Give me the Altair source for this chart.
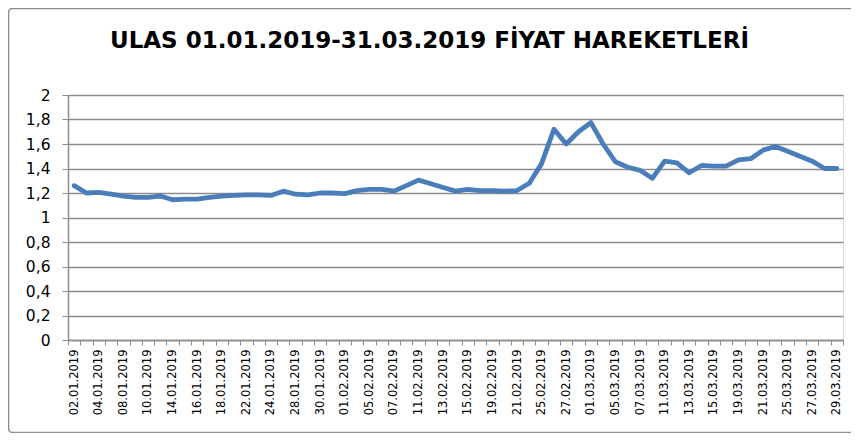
import altair as alt
import pandas as pd

dates = [
    "02.01.2019", "03.01.2019", "04.01.2019", "07.01.2019", "08.01.2019", "09.01.2019",
    "10.01.2019", "11.01.2019", "14.01.2019", "15.01.2019", "16.01.2019", "17.01.2019",
    "18.01.2019", "21.01.2019", "22.01.2019", "23.01.2019", "24.01.2019", "25.01.2019",
    "28.01.2019", "29.01.2019", "30.01.2019", "31.01.2019", "01.02.2019", "04.02.2019",
    "05.02.2019", "06.02.2019", "07.02.2019", "08.02.2019", "11.02.2019", "12.02.2019",
    "13.02.2019", "14.02.2019", "15.02.2019", "18.02.2019", "19.02.2019", "20.02.2019",
    "21.02.2019", "22.02.2019", "25.02.2019", "26.02.2019", "27.02.2019", "28.02.2019",
    "01.03.2019", "04.03.2019", "05.03.2019", "06.03.2019", "07.03.2019", "08.03.2019",
    "11.03.2019", "12.03.2019", "13.03.2019", "14.03.2019", "15.03.2019", "18.03.2019",
    "19.03.2019", "20.03.2019", "21.03.2019", "22.03.2019", "25.03.2019", "26.03.2019",
    "27.03.2019", "28.03.2019", "29.03.2019",
]

prices = [
    1.26, 1.20, 1.205, 1.19, 1.175, 1.165, 1.165, 1.175, 1.145, 1.15, 1.15, 1.165,
    1.175, 1.18, 1.185, 1.185, 1.18, 1.215, 1.19, 1.185, 1.20, 1.20, 1.195, 1.22,
    1.23, 1.23, 1.215, 1.26, 1.305, 1.275, 1.245, 1.215, 1.23, 1.22, 1.22, 1.215,
    1.22, 1.28, 1.44, 1.72, 1.60, 1.70, 1.775, 1.60, 1.455, 1.41, 1.385, 1.32,
    1.46, 1.445, 1.365, 1.425, 1.42, 1.42, 1.47, 1.48, 1.55, 1.58, 1.54, 1.50,
    1.46, 1.40, 1.40,
]

y_ticks = [0, 0.2, 0.4, 0.6, 0.8, 1.0, 1.2, 1.4, 1.6, 1.8, 2.0]
title_text = "ULAS 01.01.2019-31.03.2019 FİYAT HAREKETLERİ"

df = pd.DataFrame({"i": list(range(len(dates))), "date": dates, "price": prices})

arr = "[" + ",".join(f"'{d}'" for d in dates) + "]"
x_label_expr = f"datum.value % 2 == 0 ? {arr}[datum.value] : ''"

GRAY = "#8c8c8c"

line = alt.Chart(df).mark_line(
    color="#4A7EBB", strokeWidth=4.8, strokeJoin="round", strokeCap="round"
).encode(
    x=alt.X(
        "i:O",
        scale=alt.Scale(type="band", paddingInner=0, paddingOuter=0),
        bandPosition=0.5,
        title=None,
        axis=alt.Axis(
            labelExpr=x_label_expr,
            labelAngle=270,
            labelFont="DejaVu Sans",
            labelFontSize=11.5,
            labelColor="#000000",
            labelPadding=4,
            labelOverlap=False,
            tickBand="extent",
            tickSize=5,
            tickColor=GRAY,
            domainColor=GRAY,
            domainWidth=1.5,
            grid=False,
        ),
    ),
    y=alt.Y(
        "price:Q",
        scale=alt.Scale(domain=[0, 2], nice=False, zero=True),
        title=None,
        axis=alt.Axis(
            values=y_ticks,
            labelExpr="replace(format(datum.value, '.1~f'), '.', ',')",
            labelFont="DejaVu Sans",
            labelFontSize=15.5,
            labelColor="#000000",
            labelPadding=12,
            tickSize=6,
            tickColor=GRAY,
            domainColor=GRAY,
            domainWidth=1.5,
            grid=True,
            gridColor=GRAY,
            gridWidth=1.5,
        ),
    ),
)

border = alt.Chart(pd.DataFrame({"k": [0]})).mark_rect(
    fill=None, stroke=GRAY, strokeWidth=1.5, cornerRadius=4
).encode(
    x=alt.value(-59.5), x2=alt.value(820), y=alt.value(-86.5), y2=alt.value(337.5)
)

title = alt.Chart(pd.DataFrame({"t": [title_text]})).mark_text(
    font="DejaVu Sans", fontSize=23, fontWeight="bold", color="#000000",
    align="center", baseline="alphabetic"
).encode(
    text="t:N", x=alt.value(361.5), y=alt.value(-46.7)
)

chart = alt.layer(border, line, title).properties(
    width=775,
    height=245,
    padding={"left": 60, "top": 87, "right": 8, "bottom": 93},
    autosize=alt.AutoSizeParams(type="none"),
).configure_view(stroke=None).configure(background="white")

chart.save("out.html", embed_options={"renderer": "svg", "actions": False})
